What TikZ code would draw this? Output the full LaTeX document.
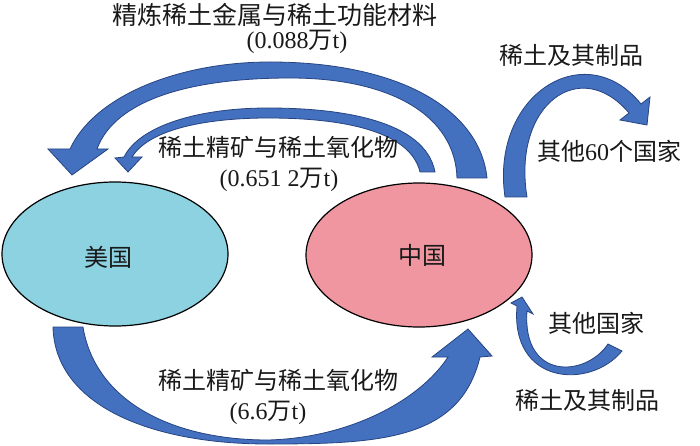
\documentclass[tikz,border=0pt]{standalone}
\usepackage{fontspec}
\setmainfont{Liberation Serif}
\newfontfamily\cjk{Noto Sans CJK SC}
\newcommand\zh[1]{{\cjk #1}}
\usetikzlibrary{shapes.geometric}
\definecolor{arrowfill}{RGB}{68,112,192}
\definecolor{arrowline}{RGB}{38,68,128}
\definecolor{usfill}{RGB}{140,210,224}
\definecolor{cnfill}{RGB}{239,150,160}
\begin{document}
\begin{tikzpicture}[x=1pt,y=-1pt,
  blockarrow/.style={fill=arrowfill,draw=arrowline,line width=0.8pt,line join=miter},
  country/.style={ellipse,draw=black,line width=1.2pt,minimum width=226pt,minimum height=144pt,inner sep=0pt},
  lbl/.style={inner sep=0pt,text=black!90,font=\fontsize{24}{28}\selectfont},
  title/.style={inner sep=0pt,text=black!90,font=\fontsize{25}{29}\selectfont}]
\useasboundingbox (0,0) rectangle (700,446);
\fill[white] (0,0) rectangle (700,446);

% countries
\node[country,fill=usfill] (us) at (115,254) {};
\node[lbl] (uslbl) at (108,257) {\zh{美国}};
\node[country,fill=cnfill] (cn) at (419,255) {};
\node[lbl] (cnlbl) at (422,255) {\zh{中国}};

% big top arrow: China -> USA
\draw[blockarrow] (487,178) .. controls (480,110) and (400,62) .. (270,62)
  .. controls (180,62) and (95,95) .. (70,149) -- (48,149) -- (72,175) -- (108,149) -- (97,149)
  .. controls (115,100) and (190,78) .. (290,78)
  .. controls (390,78) and (455,115) .. (457,178) -- cycle;

% small top arrow: China -> USA
\draw[blockarrow] (435,172) .. controls (425,120) and (340,108) .. (268,108)
  .. controls (200,108) and (140,125) .. (124,157) -- (115,158) -- (128,172) -- (142,157) -- (132,157)
  .. controls (150,128) and (210,118) .. (268,118)
  .. controls (340,118) and (410,130) .. (420,172) -- cycle;

% right arrow: China -> other 60 countries
\draw[blockarrow] (505,197) .. controls (490,95) and (585,35) .. (641,104)
  -- (650,97) -- (647,125) -- (620,120) -- (629,113)
  .. controls (580,55) and (512,105) .. (527,197) -- cycle;

% small lower right arrow: other countries -> China
\draw[blockarrow] (622,351) .. controls (590,390) and (510,385) .. (517,306)
  -- (511,303) -- (522,297) -- (533,314) -- (527,311)
  .. controls (522,380) and (585,378) .. (608,344) -- cycle;

% bottom arrow: USA -> China
\draw[blockarrow] (53,327) .. controls (55,405) and (150,444) .. (268,444)
  .. controls (380,444) and (460,440) .. (480,357) -- (492,356) -- (468,329) -- (432,357) -- (448,357)
  .. controls (420,400) and (350,438) .. (268,440)
  .. controls (170,440) and (95,400) .. (83,327) -- cycle;

% labels
\node[title] (t1) at (275,15) {\zh{精炼稀土金属与稀土功能材料}};
\node[lbl] (t1q) at (297,42) {(0.088\zh{万}t)};
\node[lbl] (t2) at (278,147) {\zh{稀土精矿与稀土氧化物}};
\node[lbl] (t2q) at (279,180) {(0.651 2\zh{万}t)};
\node[lbl] (t3) at (571,55) {\zh{稀土及其制品}};
\node[lbl] (t3d) at (609,151) {\zh{其他}60\zh{个国家}};
\node[lbl] (t4) at (596,323) {\zh{其他国家}};
\node[lbl] (t4p) at (587,400) {\zh{稀土及其制品}};
\node[lbl] (t5) at (278,380) {\zh{稀土精矿与稀土氧化物}};
\node[lbl] (t5q) at (268,413) {(6.6\zh{万}t)};
\end{tikzpicture}
\end{document}
